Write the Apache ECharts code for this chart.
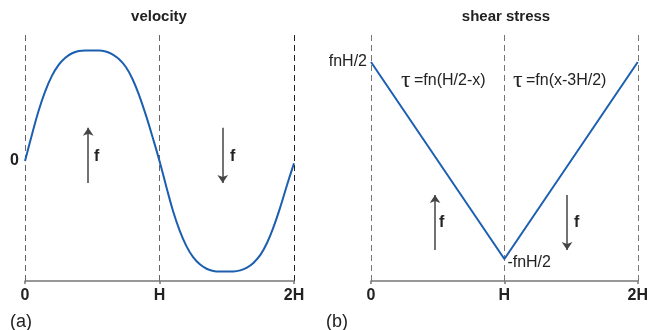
<!DOCTYPE html>
<html>
<head>
<meta charset="utf-8">
<script src="https://cdn.jsdelivr.net/npm/echarts@6/dist/echarts.min.js"></script>
<style>
  html, body { margin: 0; padding: 0; background: #fff; }
  #c { width: 651px; height: 330px; }
</style>
</head>
<body>
<div id="c"></div>
<script>
// Position along the channel, in units of H
const xTickLabels = ['0', 'H', '2H'];

// Velocity profile (normalised to its peak), sampled every 0.05 H
const velX = [0, 0.05, 0.1, 0.15, 0.2, 0.25, 0.3, 0.35, 0.4, 0.45, 0.5, 0.55, 0.6, 0.65, 0.7, 0.75, 0.8, 0.85, 0.9, 0.95, 1.0,
              1.05, 1.1, 1.15, 1.2, 1.25, 1.3, 1.35, 1.4, 1.45, 1.5, 1.55, 1.6, 1.65, 1.7, 1.75, 1.8, 1.85, 1.9, 1.95, 2.0];
const velY = [0, 0.23, 0.45, 0.63, 0.77, 0.87, 0.935, 0.975, 0.995, 1.0, 1.0, 1.0, 0.99, 0.965, 0.92, 0.85, 0.74, 0.59, 0.41, 0.21, 0,
              -0.23, -0.45, -0.63, -0.77, -0.87, -0.935, -0.975, -0.995, -1.0, -1.0, -1.0, -0.99, -0.965, -0.92, -0.85, -0.74, -0.59, -0.41, -0.21, -0.02];

// Shear stress, in units of fnH
const tauX = [0, 1, 2];
const tauY = [0.5, -0.5, 0.5];
const tauLabels = ['fnH/2', '-fnH/2', ''];

const FONT = '"Liberation Sans", Arial, Helvetica, sans-serif';
const BLUE = '#1c5fb0';
const INK = '#222';

const chart = echarts.init(document.getElementById('c'), null, { renderer: 'canvas' });

function xAxisFor(gridIndex, splitColors) {
  return {
    type: 'value', gridIndex, min: 0, max: 2, interval: 1,
    axisLine: { show: true, onZero: false, lineStyle: { color: '#777', width: 1.5 } },
    axisTick: { show: true, length: 3, lineStyle: { color: '#777', width: 1.5 } },
    axisLabel: {
      margin: 7, color: INK, fontFamily: FONT, fontWeight: 'bold', fontSize: 16,
      formatter: v => xTickLabels[Math.round(v)] ?? ''
    },
    splitLine: { show: true, lineStyle: { color: splitColors, type: [6, 4], width: 1 } }
  };
}

function forceArrows(up, down) {
  return {
    silent: true,
    symbol: ['none', 'arrow'],
    symbolSize: 8,
    label: { show: false },
    lineStyle: { color: '#444', width: 1.5, type: 'solid' },
    emphasis: { disabled: true },
    animation: false,
    data: [
      [{ coord: [up[0], up[1]] }, { coord: [up[0], up[2]] }],
      [{ coord: [down[0], down[1]] }, { coord: [down[0], down[2]] }]
    ]
  };
}

const velData = velX.map((x, i) => {
  const item = { value: [x, velY[i]] };
  if (i === 0) {
    item.label = { show: true, position: 'left', distance: 6, formatter: '0',
      color: INK, fontFamily: FONT, fontWeight: 'bold', fontSize: 16 };
  }
  return item;
});

const tauData = tauX.map((x, i) => {
  const item = { value: [x, tauY[i]] };
  if (tauLabels[i]) {
    item.label = i === 0
      ? { show: true, position: 'left', distance: 4, formatter: tauLabels[i],
          color: INK, fontFamily: FONT, fontSize: 16 }
      : { show: true, position: 'right', distance: 3, offset: [0, 4], formatter: tauLabels[i],
          color: INK, fontFamily: FONT, fontSize: 16 };
  }
  return item;
});

function freeText(text, x, y, opts) {
  return {
    type: 'text', x, y, silent: true,
    style: Object.assign({
      text, fill: INK, font: '15px ' + FONT, textAlign: 'left', textVerticalAlign: 'middle'
    }, opts || {})
  };
}

function tauEquation(body, x, y) {
  return {
    type: 'text', x, y, silent: true,
    style: {
      text: '{t|τ} {e|' + body + '}',
      textVerticalAlign: 'middle',
      rich: {
        t: { fontFamily: '"Liberation Serif", "DejaVu Serif", serif', fontSize: 24, fill: INK },
        e: { fontFamily: FONT, fontSize: 16, fill: INK }
      }
    }
  };
}

chart.setOption({
  animation: false,
  backgroundColor: '#fff',
  grid: [
    { left: 25, right: 357, top: 35, bottom: 49 },
    { left: 371, right: 13, top: 35, bottom: 49 }
  ],
  xAxis: [
    xAxisFor(0, ['#666', '#666', '#222']),
    xAxisFor(1, ['#777', '#777', '#777'])
  ],
  yAxis: [
    { type: 'value', gridIndex: 0, min: -1.086, max: 1.14, show: false },
    { type: 'value', gridIndex: 1, min: -0.612, max: 0.637, show: false }
  ],
  series: [
    {
      type: 'line', xAxisIndex: 0, yAxisIndex: 0,
      data: velData, smooth: 0.4, showSymbol: true, symbolSize: 0,
      lineStyle: { color: BLUE, width: 2 }, itemStyle: { color: BLUE },
      markLine: forceArrows([0.47, -0.2, 0.3], [1.47, 0.3, -0.2])
    },
    {
      type: 'line', xAxisIndex: 1, yAxisIndex: 1,
      data: tauData, smooth: false, showSymbol: true, symbolSize: 0,
      lineStyle: { color: BLUE, width: 2 }, itemStyle: { color: BLUE },
      markLine: forceArrows([0.48, -0.454, -0.175], [1.47, -0.175, -0.454])
    }
  ],
  graphic: [
    freeText('velocity', 159, 17, { font: 'bold 15px ' + FONT, textAlign: 'center' }),
    freeText('shear stress', 506, 17, { font: 'bold 15px ' + FONT, textAlign: 'center' }),
    freeText('(a)', 10, 322, { font: '18px ' + FONT }),
    freeText('(b)', 326, 322, { font: '18px ' + FONT }),
    freeText('f', 94, 157, { font: 'bold 16px ' + FONT }),
    freeText('f', 230, 157, { font: 'bold 16px ' + FONT }),
    freeText('f', 439, 223, { font: 'bold 16px ' + FONT }),
    freeText('f', 574, 223, { font: 'bold 16px ' + FONT }),
    tauEquation('=fn(H/2-x)', 401, 81),
    tauEquation('=fn(x-3H/2)', 513, 81)
  ]
});
</script>
</body>
</html>
